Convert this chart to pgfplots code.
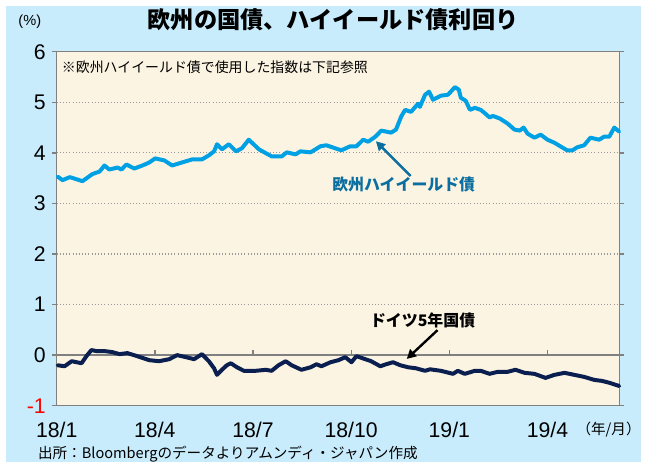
\documentclass[border=0pt]{standalone}
\usepackage{pgfplots}
\pgfplotsset{compat=1.18}
\usepackage{fontspec}
\setmainfont{Liberation Sans}
\newfontfamily\jp{Noto Sans CJK JP}
\usetikzlibrary{arrows.meta}
\definecolor{outerbg}{RGB}{200,236,252}
\definecolor{innerbg}{RGB}{251,244,226}
\definecolor{hycol}{RGB}{0,160,228}
\definecolor{bundcol}{RGB}{10,30,80}
\definecolor{hylab}{RGB}{10,110,160}
\definecolor{axgray}{RGB}{128,128,128}
\begin{document}
\begin{tikzpicture}
\begin{scope}[x=0.75pt,y=0.75pt]
\useasboundingbox (0,0) rectangle (645,465);
\fill[white] (0,0) rectangle (645,465);
\fill[outerbg] (6,0) rectangle (645,459);
\end{scope}
\begin{axis}[
  scale only axis,
  anchor=south west,
  at={(42.75pt,42.75pt)},
  width=424.5pt, height=267pt,
  xmin=0, xmax=17.2,
  ymin=-1, ymax=6,
  axis background/.style={fill=innerbg},
  axis line style={draw=axgray, line width=1.1pt},
  xtick={0,3,6,9,12,15},
  xticklabels={18/1,18/4,18/7,18/10,19/1,19/4},
  ytick={-1,0,1,2,3,4,5,6},
  yticklabels={\textcolor{red}{-1},0,1,2,3,4,5,6},
  x tick style={draw=none},
  y tick style={draw=axgray, line width=1pt},
  tick align=outside,
  major tick length=3.75pt,
  ymajorgrids,
  grid style={draw=axgray!80, dotted, line width=0.9pt},
  tick label style={font=\fontsize{16}{16}\selectfont},
  xticklabel style={yshift=-5pt},
  yticklabel style={xshift=-1pt},
  clip=false,
]
\draw[axgray, line width=1.1pt] (axis cs:0,0) -- (axis cs:17.2,0);
\draw[axgray, line width=1pt] (axis cs:3,0) -- ++(0pt,4pt);
\draw[axgray, line width=1pt] (axis cs:6,0) -- ++(0pt,4pt);
\draw[axgray, line width=1pt] (axis cs:9,0) -- ++(0pt,4pt);
\draw[axgray, line width=1pt] (axis cs:12,0) -- ++(0pt,4pt);
\draw[axgray, line width=1pt] (axis cs:15,0) -- ++(0pt,4pt);
\addplot[hycol, line width=3pt, line join=round, line cap=round] coordinates {
(0.03,3.53)(0.18,3.46)(0.40,3.52)(0.79,3.44)(1.09,3.58)(1.31,3.63)(1.46,3.75)(1.61,3.67)(1.86,3.71)(1.98,3.67)(2.13,3.77)(2.37,3.69)(2.62,3.75)(2.83,3.81)(3.01,3.89)(3.29,3.85)(3.53,3.75)(3.83,3.81)(4.14,3.87)(4.44,3.87)(4.65,3.95)(4.81,4.03)(4.90,4.17)(5.05,4.07)(5.26,4.17)(5.48,4.03)(5.66,4.09)(5.87,4.26)(6.18,4.07)(6.57,3.93)(6.88,3.93)(7.03,4.01)(7.30,3.97)(7.45,4.03)(7.76,4.01)(8.06,4.13)(8.24,4.15)(8.70,4.05)(8.97,4.13)(9.16,4.13)(9.37,4.26)(9.52,4.22)(9.74,4.32)(9.92,4.44)(10.22,4.40)(10.37,4.46)(10.53,4.72)(10.65,4.85)(10.83,4.81)(11.04,4.97)(11.10,4.91)(11.26,5.15)(11.38,5.21)(11.50,5.05)(11.74,5.13)(11.96,5.15)(12.17,5.30)(12.29,5.25)(12.35,5.09)(12.50,5.03)(12.63,4.85)(12.78,4.89)(12.96,4.85)(13.11,4.77)(13.23,4.70)(13.33,4.73)(13.54,4.68)(13.78,4.58)(13.99,4.46)(14.15,4.44)(14.27,4.50)(14.39,4.38)(14.60,4.30)(14.79,4.36)(15.00,4.26)(15.21,4.20)(15.39,4.13)(15.60,4.05)(15.76,4.05)(15.91,4.11)(16.12,4.15)(16.31,4.30)(16.58,4.26)(16.73,4.32)(16.89,4.32)(17.04,4.50)(17.19,4.42)
};
\addplot[bundcol, line width=3pt, line join=round, line cap=round] coordinates {
(0.03,-0.20)(0.24,-0.22)(0.46,-0.12)(0.76,-0.16)(0.91,-0.02)(1.06,0.10)(1.22,0.08)(1.46,0.08)(1.70,0.06)(1.92,0.02)(2.16,0.04)(2.46,-0.02)(2.83,-0.10)(3.13,-0.12)(3.44,-0.08)(3.68,0.0)(3.95,-0.04)(4.20,-0.08)(4.44,0.02)(4.65,-0.12)(4.81,-0.26)(4.90,-0.39)(5.05,-0.29)(5.20,-0.20)(5.32,-0.16)(5.51,-0.24)(5.72,-0.31)(6.08,-0.31)(6.39,-0.29)(6.57,-0.31)(6.78,-0.20)(7.00,-0.12)(7.18,-0.20)(7.48,-0.29)(7.76,-0.24)(7.94,-0.18)(8.09,-0.22)(8.37,-0.14)(8.61,-0.10)(8.82,-0.04)(9.01,-0.14)(9.16,-0.02)(9.43,-0.08)(9.61,-0.12)(9.89,-0.22)(10.07,-0.18)(10.28,-0.14)(10.50,-0.20)(10.74,-0.24)(10.98,-0.26)(11.26,-0.31)(11.41,-0.28)(11.74,-0.31)(12.11,-0.37)(12.26,-0.31)(12.47,-0.37)(12.78,-0.31)(12.96,-0.31)(13.23,-0.37)(13.48,-0.33)(13.78,-0.33)(14.02,-0.29)(14.30,-0.35)(14.60,-0.37)(14.94,-0.45)(15.21,-0.39)(15.52,-0.35)(15.82,-0.39)(16.12,-0.43)(16.43,-0.49)(16.67,-0.51)(16.91,-0.55)(17.19,-0.61)
};
\end{axis}
\begin{scope}[x=0.75pt,y=0.75pt]
\node[font=\jp\bfseries\fontsize{17.5}{17.5}\selectfont] at (335,445) {欧州の国債、ハイイールド債利回り};
\node[font=\fontsize{11}{11}\selectfont] at (30,443) {(\%)};
\node[anchor=west, font=\jp\fontsize{10.5}{10.5}\selectfont, inner sep=0pt] at (62,397) {※欧州ハイイールド債で使用した指数は下記参照};
\node[font=\jp\bfseries\fontsize{12}{12}\selectfont, text=hylab] at (406,279) {欧州ハイイールド債};
\draw[hylab, line width=1.8pt, -{Triangle[length=7pt,width=7pt]}] (413,288) -- (378,323);
\node[font=\jp\bfseries\fontsize{12}{12}\selectfont] at (425,143) {ドイツ5年国債};
\draw[black, line width=1.8pt, -{Triangle[length=7pt,width=7pt]}] (440,133) -- (409,104);
\node[font=\jp\fontsize{11}{11}\selectfont] at (612,33) {（年/月）};
\node[anchor=west, font=\jp\fontsize{11}{11}\selectfont, inner sep=0pt] at (38,8) {出所：Bloombergのデータよりアムンディ・ジャパン作成};
\end{scope}
\end{tikzpicture}
\end{document}
